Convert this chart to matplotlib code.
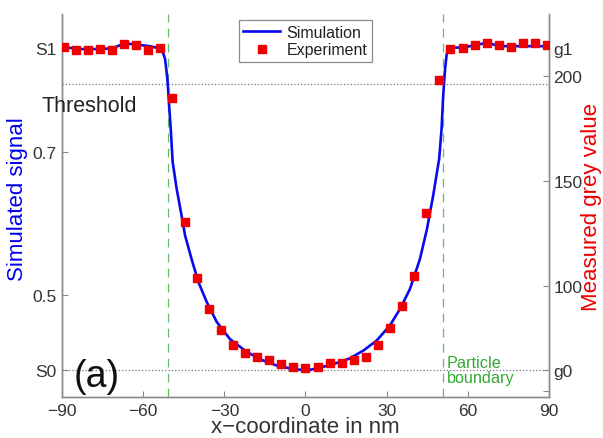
import matplotlib
matplotlib.use("Agg")
import matplotlib.pyplot as plt
from matplotlib.lines import Line2D

plt.rcParams['font.family'] = ['Liberation Sans', 'DejaVu Sans']

# simulated signal (left axis)
sim_x = [-90.0, -83.3, -75.9, -71.5, -66.7, -62.4, -57.5, -53.1, -51.9, -51.3,
         -50.9, -50.4, -49.8, -49.1, -47.6, -45.8, -44.5, -42.1, -39.6, -36.5,
         -32.8, -27.9, -21.7, -15.6, -10.6, -5.7, 0.4, 4.1, 10.3, 16.4,
         21.4, 26.3, 31.2, 34.9, 38.6, 42.3, 44.9, 47.2, 49.4, 50.3,
         50.9, 51.6, 52.2, 53.4, 58.3, 63.3, 67.6, 71.2, 75.6, 83.0, 90.0]
sim_s = [0.847, 0.844, 0.844, 0.845, 0.852, 0.850, 0.848, 0.844, 0.830, 0.811,
         0.795, 0.765, 0.732, 0.686, 0.648, 0.611, 0.583, 0.550, 0.518, 0.490,
         0.462, 0.438, 0.420, 0.408, 0.401, 0.397, 0.394, 0.397, 0.403, 0.411,
         0.422, 0.436, 0.457, 0.480, 0.508, 0.550, 0.592, 0.639, 0.690, 0.732,
         0.779, 0.816, 0.837, 0.846, 0.846, 0.850, 0.853, 0.848, 0.848, 0.848, 0.848]

# measured grey values (right axis)
exp_x = [-89.4, -84.9, -80.5, -76.0, -71.5, -67.1, -62.6, -58.1, -53.6, -49.2,
         -44.7, -40.2, -35.8, -31.3, -26.8, -22.4, -17.9, -13.4, -8.9, -4.5,
         0.0, 4.5, 8.9, 13.4, 17.9, 22.4, 26.8, 31.3, 35.8, 40.2,
         44.7, 49.2, 53.6, 58.1, 62.6, 67.1, 71.5, 76.0, 80.5, 84.9, 89.4]
exp_g = [213.7, 212.4, 212.4, 213.0, 212.4, 215.2, 214.9, 212.5, 213.2, 189.5,
         130.3, 103.7, 89.0, 79.0, 71.9, 67.9, 66.3, 64.9, 62.9, 61.4,
         61.0, 61.3, 63.5, 63.2, 64.6, 66.3, 71.9, 80.0, 90.6, 104.6,
         134.6, 198.0, 212.9, 213.5, 214.9, 215.9, 214.8, 214.0, 215.6, 215.6, 214.8]

S0, S1 = 0.395, 0.846
g0, g1 = 60.0, 213.3
threshold = 0.795
boundary = [-51, 51]

left_ticks = [S0, 0.5, 0.7, S1]
left_labels = ["S0", "0.5", "0.7", "S1"]
right_ticks = [g0, 50, 100, 150, 200, g1]
right_labels = ["g0", "", "100", "150", "200", "g1"]
x_ticks = [-90, -60, -30, 0, 30, 60, 90]

grey = "#8a8a8a"
txt = "#333333"

fig = plt.figure(figsize=(6.03, 4.39), dpi=100)
ax = fig.add_axes([0.1028, 0.0934, 0.8076, 0.8724])
ax2 = ax.twinx()

ax.set_xlim(-90, 90)
ax.set_ylim(0.357, 0.893)
ax2.set_ylim(47.1, 229.5)

# reference lines
ax.axhline(S0, color="#777777", ls=":", lw=0.9)
ax.axhline(threshold, color="#777777", ls=":", lw=0.9)
for b in boundary:
    ax.axvline(b, color="#66bb66", ls=(0, (7, 5)), lw=0.9)

ax.plot(sim_x, sim_s, color="#0a0aee", lw=1.9, zorder=3)
ax2.plot(exp_x, exp_g, "s", color="#ee0000", ms=6.3, zorder=4)

ax.set_xticks(x_ticks)
ax.set_xticklabels(["\u221290", "\u221260", "\u221230", "0", "30", "60", "90"])
ax.set_yticks(left_ticks)
ax.set_yticklabels(left_labels)
ax2.set_yticks(right_ticks)
ax2.set_yticklabels(right_labels)

for a in (ax, ax2):
    a.spines["top"].set_visible(False)
    for s in ("left", "right", "bottom"):
        a.spines[s].set_color(grey)
        a.spines[s].set_linewidth(1.0)
    a.tick_params(direction="in", length=4, color=grey, labelcolor=txt, labelsize=12.5, pad=3)
ax.tick_params(axis="y", pad=4)
ax.tick_params(axis="x", pad=4)

ax.set_xlabel("x\u2212coordinate in nm", fontsize=16, color=txt)
ax.xaxis.set_label_coords(0.5, -0.05)
ax.set_ylabel("Simulated signal", fontsize=16, color="#0000ee")
ax.yaxis.set_label_coords(-0.07, 0.52)
ax2.set_ylabel("Measured grey value", fontsize=16, color="#ee0000")
ax2.yaxis.set_label_coords(1.066, 0.5)

fig.text(42 / 603, 1 - 106 / 439, "Threshold", fontsize=15.5, color="#222222", va="center", ha="left")
fig.text(74 / 603, 1 - 377 / 439, "(a)", fontsize=27, color="#111111", va="center", ha="left")
fig.text(447 / 603, 1 - 371 / 439, "Particle\nboundary", fontsize=11.7, color="#33aa33",
         va="center", ha="left", linespacing=1.0)

handles = [Line2D([], [], color="#0a0aee", lw=1.9),
           Line2D([], [], marker="s", ls="none", color="#ee0000", ms=6.3)]
leg = ax2.legend(handles, ["Simulation", "Experiment"], loc="upper center",
                 bbox_to_anchor=(0.5, 0.984), fontsize=11.5, fancybox=False,
                 framealpha=1, edgecolor=grey, borderpad=0.3, handlelength=2.3,
                 handletextpad=0.4, labelspacing=0.15, borderaxespad=0)
leg.get_frame().set_linewidth(0.9)
for t in leg.get_texts():
    t.set_color("#222222")

fig.savefig("out.png", dpi=100)
